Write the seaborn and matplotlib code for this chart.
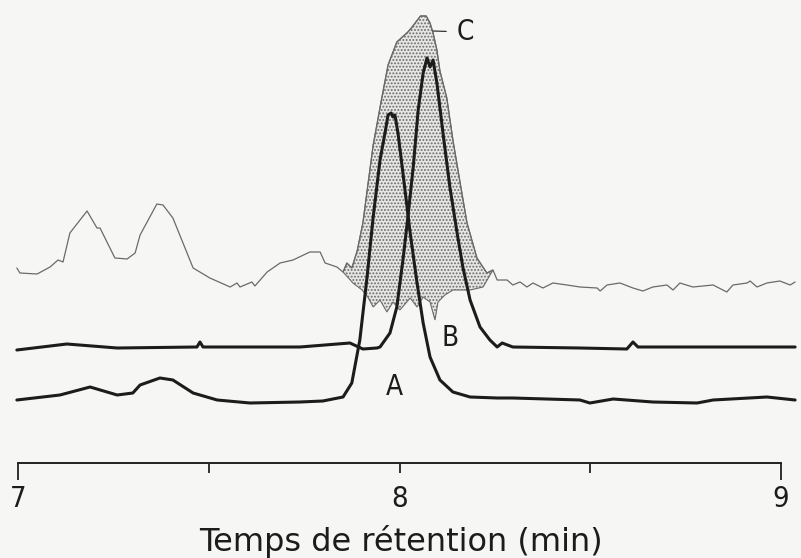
import numpy as np
import seaborn as sns
import matplotlib
matplotlib.use("Agg")
import matplotlib.pyplot as plt

# retention time (min) and detector signal (arbitrary units)
c_time = [6.997, 7.005, 7.050, 7.084, 7.105, 7.118, 7.136, 7.181, 7.207, 7.215,
          7.254, 7.286, 7.307, 7.320, 7.364, 7.380, 7.406, 7.459, 7.503, 7.556,
          7.574, 7.582, 7.613, 7.621, 7.653, 7.687, 7.721, 7.765, 7.792, 7.805,
          7.836, 7.852, 7.862, 7.875, 7.889, 7.904, 7.915, 7.931, 7.954, 7.970,
          7.993, 8.022, 8.033, 8.045, 8.055, 8.070, 8.080, 8.088, 8.098, 8.106,
          8.124, 8.140, 8.159, 8.177, 8.203, 8.229, 8.245, 8.256, 8.282, 8.297,
          8.316, 8.334, 8.350, 8.376, 8.402, 8.439, 8.473, 8.518, 8.526, 8.544,
          8.578, 8.612, 8.638, 8.664, 8.701, 8.717, 8.735, 8.769, 8.822, 8.858,
          8.874, 8.911, 8.919, 8.937, 8.963, 8.997, 9.024, 9.037]
c_signal = [195, 190, 189, 196, 203, 201, 230, 252, 235, 235,
            205, 204, 210, 228, 259, 258, 245, 195, 185, 176,
            180, 176, 181, 177, 191, 200, 203, 211, 211, 200,
            196, 191, 200, 195, 212, 240, 272, 318, 366, 398,
            421, 431, 436, 442, 447, 447, 440, 430, 413, 392,
            365, 323, 280, 240, 205, 190, 193, 183, 183, 178,
            181, 176, 180, 175, 180, 178, 176, 175, 172, 178,
            180, 175, 172, 176, 178, 173, 180, 176, 178, 171,
            178, 180, 182, 176, 180, 182, 178, 181]

# lower jagged edge of the stippled area under peak C
fill_lower_time = [7.852, 7.878, 7.902, 7.917, 7.931, 7.949, 7.967, 7.983, 8.001, 8.028,
                   8.046, 8.062, 8.080, 8.093, 8.101, 8.119, 8.140, 8.185, 8.219, 8.245]
fill_lower_signal = [191, 180, 173, 166, 156, 163, 151, 161, 153, 165,
                     156, 166, 161, 143, 161, 168, 173, 173, 176, 193]

b_time = [6.997, 7.128, 7.260, 7.469, 7.477, 7.485, 7.739, 7.870, 7.904, 7.941,
          7.949, 7.975, 7.993, 8.009, 8.022, 8.036, 8.049, 8.062, 8.072, 8.080,
          8.088, 8.098, 8.114, 8.132, 8.151, 8.166, 8.185, 8.211, 8.237, 8.256,
          8.269, 8.297, 8.473, 8.596, 8.612, 8.625, 8.822, 9.037]
b_signal = [113, 119, 115, 116, 121, 116, 116, 120, 114, 115,
            116, 130, 156, 203, 246, 296, 353, 390, 405, 396,
            403, 380, 330, 276, 230, 196, 163, 136, 123, 116,
            120, 116, 115, 114, 121, 116, 116, 116]

a_time = [6.997, 7.110, 7.189, 7.260, 7.301, 7.320, 7.372, 7.406, 7.459, 7.522,
          7.608, 7.739, 7.799, 7.852, 7.875, 7.896, 7.915, 7.931, 7.949, 7.962,
          7.970, 7.978, 7.983, 7.988, 7.996, 8.009, 8.028, 8.046, 8.062, 8.080,
          8.106, 8.140, 8.185, 8.256, 8.297, 8.473, 8.499, 8.560, 8.664, 8.780,
          8.822, 8.963, 9.037]
a_signal = [63, 68, 76, 68, 70, 78, 85, 83, 70, 63,
            60, 61, 62, 66, 80, 123, 186, 246, 303, 330,
            348, 350, 346, 348, 330, 290, 230, 180, 140, 106,
            83, 71, 66, 65, 65, 63, 60, 64, 61, 60,
            63, 66, 63]

tick_pos = [7, 8, 9]
tick_minor = [7.5, 8.5]
curve_labels = ["A", "B", "C"]
label_time = [7.986, 8.132, 8.172]
label_signal = [76, 125, 431]

sns.set_style("white")
plt.rcParams["hatch.linewidth"] = 0.9
plt.rcParams["font.family"] = ["DejaVu Sans"]

paper = "#f6f6f4"
fig = plt.figure(figsize=(8.01, 5.58), dpi=100, facecolor=paper)
ax = fig.add_axes([0, 95 / 558, 1, 463 / 558])
ax.set_facecolor(paper)

# stippled area under C
c_t = np.array(c_time)
c_s = np.array(c_signal)
m = (c_t >= 7.852) & (c_t <= 8.245)
poly_t = np.concatenate([c_t[m], np.array(fill_lower_time)[::-1]])
poly_s = np.concatenate([c_s[m], np.array(fill_lower_signal)[::-1]])
ax.fill(poly_t, poly_s, facecolor="#e6e6e4", edgecolor="#6a6a6a",
        hatch=".....", linewidth=0.8, zorder=1)

sns.lineplot(x=c_time, y=c_signal, ax=ax, color="#6a6a6a", lw=0.9,
             estimator=None, sort=False, zorder=2)
sns.lineplot(x=b_time, y=b_signal, ax=ax, color="#1c1c1c", lw=2.2,
             estimator=None, sort=False, zorder=3)
sns.lineplot(x=a_time, y=a_signal, ax=ax, color="#1c1c1c", lw=2.2,
             estimator=None, sort=False, zorder=3)

lab_font = dict(fontsize=20, fontstretch="condensed", color="#1c1c1c",
                ha="center", va="center")
for name, t, s in zip(curve_labels, label_time, label_signal):
    if name == "C":
        ax.annotate(name, xy=(8.088, 432), xytext=(t, s),
                    arrowprops=dict(arrowstyle="-", lw=0.9, color="#333333",
                                    shrinkA=5, shrinkB=0), **lab_font)
    else:
        ax.text(t, s, name, **lab_font)

ax.set_xlim(7 - 18 / 381.5, 9 + 20 / 381.5)
ax.set_ylim(0, 463)
for side in ["left", "top", "right"]:
    ax.spines[side].set_visible(False)
ax.spines["bottom"].set_bounds(7, 9)
ax.spines["bottom"].set_linewidth(1.4)
ax.spines["bottom"].set_color("#222222")
ax.set_yticks([])
ax.set_xticks(tick_pos)
ax.set_xticks(tick_minor, minor=True)
ax.set_xticklabels([str(t) for t in tick_pos])
ax.tick_params(axis="x", which="both", direction="out", bottom=True,
               color="#222222", width=1.3)
ax.tick_params(axis="x", which="major", length=7.5, pad=8, labelsize=21)
ax.tick_params(axis="x", which="minor", length=7.5)
for lbl in ax.get_xticklabels():
    lbl.set_fontstretch("condensed")
    lbl.set_color("#1c1c1c")
ticks = ax.xaxis.get_major_ticks()
ticks[0].tick1line.set_markersize(12)
ticks[-1].tick1line.set_markersize(12)
ax.set_xlabel("Temps de rétention (min)", fontsize=23, color="#1c1c1c",
              labelpad=9)

fig.savefig("out.png", dpi=100, facecolor=paper)
